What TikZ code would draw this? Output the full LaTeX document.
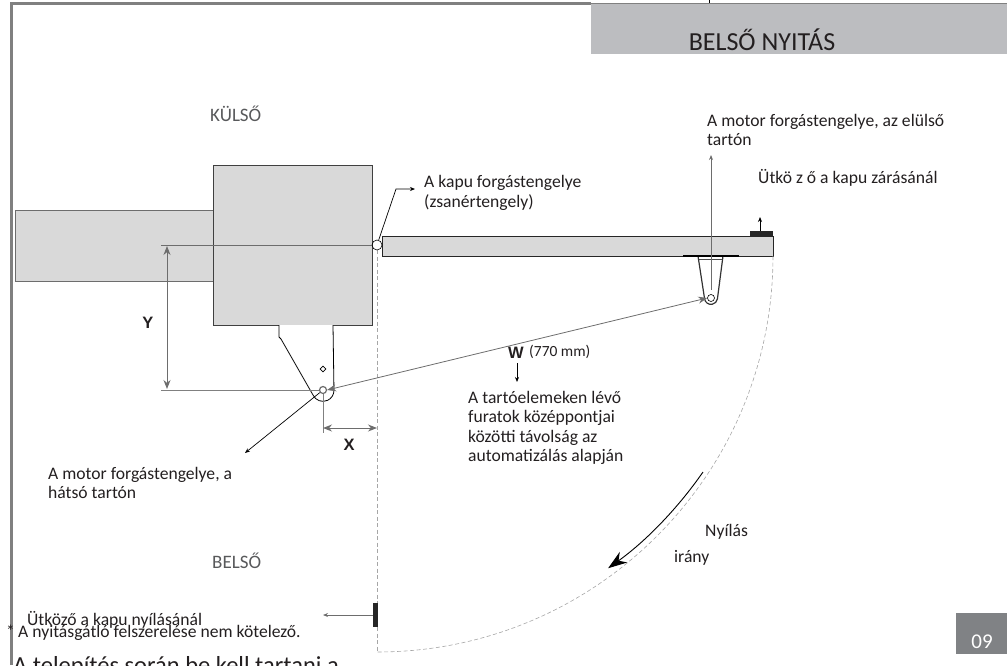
\documentclass[tikz,border=0pt]{standalone}
\usepackage{fontspec}
\setmainfont{Carlito}
\newfontfamily\dimfont{Liberation Sans}
\usetikzlibrary{arrows.meta, shapes.geometric}

\definecolor{framegray}{HTML}{808080}
\definecolor{wallgray}{HTML}{D9D9D9}
\definecolor{headgray}{HTML}{BCBDC0}
\definecolor{linegray}{HTML}{6D6D6D}
\definecolor{textgray}{HTML}{231F20}
\definecolor{sidegray}{HTML}{58595B}
\definecolor{pagegray}{HTML}{808285}

\tikzset{
    wall/.style={draw=linegray, fill=wallgray, line width=1pt},
    textlabel/.style={inner sep=0pt, anchor=west, text=textgray, font=\fontsize{17.6}{19.5}\selectfont, align=left},
    sidelabel/.style={inner sep=0pt, anchor=west, text=sidegray, font=\fontsize{19}{22}\selectfont},
    dimlabel/.style={inner sep=0pt, font=\dimfont\bfseries\fontsize{16.5}{18}\selectfont, text=textgray},
    dimline/.style={draw=linegray, line width=1pt},
    dimarrow/.style={dimline, {Stealth[length=9pt,width=7pt]}-{Stealth[length=9pt,width=7pt]}},
    thinarrow/.style={draw=black, line width=0.7pt, -{Stealth[length=5pt,width=4pt]}},
    gatepath/.style={draw=gray!70, line width=0.6pt, dash pattern=on 4pt off 2.5pt},
    pinhole/.style={circle, draw=black, inner sep=0pt, line width=0.6pt}
}

\begin{document}
\begin{tikzpicture}[x=1pt, y=-1pt]
    \useasboundingbox (0,0) rectangle (1007,665);
    % Frame
    \draw[framegray, line width=3pt] (11.5,665) -- (11.5,3.5) -- (591,3.5);
    \draw[framegray, line width=1pt] (591,3.5) -- (1007,3.5);
    \draw[black, line width=1pt] (709,0) -- (709,3);
    \node (header) [fill=headgray, minimum width=416pt, minimum height=50pt, inner sep=0pt, anchor=north west] at (591,4) {};
    \node (title) [inner sep=0pt, text=textgray, font=\fontsize{26}{30}\selectfont] at (762,40) {BELSŐ NYITÁS};
    % Wall
    \node (pillar) [wall, minimum width=198pt, minimum height=71pt, inner sep=0pt, anchor=north west] at (15,210) {};
    \node (post) [wall, draw=black!75, minimum width=159pt, minimum height=160pt, inner sep=0pt, anchor=north west] at (213,165) {};
    % Gate leaf
    \node (leaf) [draw=black!85, fill=wallgray, line width=1pt, minimum width=390.5pt, minimum height=19.5pt, inner sep=0pt, anchor=north west] at (382,236) {};
    \node (stopclose) [fill=black!85, minimum width=23pt, minimum height=5pt, inner sep=0pt, anchor=south east] at (773,236) {};
    % Swing path
    \draw[gatepath] (773,256) arc[start angle=0, end angle=90, radius=396];
    \draw[gatepath] (377,250) -- (377,652);
    \node (stopopen) [fill=black!85, minimum width=5pt, minimum height=24pt, inner sep=0pt] at (375.5,615) {};
    % Rear bracket
    \draw[black, line width=0.8pt, fill=white] (279,325) -- (279,337) -- (281,339) -- (313,395) arc[start angle=155, end angle=0, radius=11] -- (333,325);
    \node (hole) [diamond, draw=black, inner sep=0pt, minimum size=6pt, line width=0.6pt] at (323,369) {};
    % Front bracket
    \draw[black!80, line width=1.2pt] (698,256) -- (704.6,299) arc[start angle=170, end angle=10, radius=6.5] -- (723,256);
    \draw[black!70, line width=0.7pt] (699,259.5) -- (722,259.5);
    \draw[black, line width=2pt] (683,255.5) -- (739,255.5);
    % Pins
    \node (hinge) [pinhole, minimum size=10pt] at (377,245) {};
    \node (rearpin) [pinhole, draw=linegray, line width=1.2pt, minimum size=7pt] at (323,390) {};
    \node (frontpin) [pinhole, fill=white, minimum size=7pt] at (711,298) {};
    % Dimensions
    \coordinate (ytop) at (161,245);
    \coordinate (ybot) at (161,390);
    \draw[dimline] (ytop) -- (hinge.west);
    \draw[dimline, draw=gray] (ybot) -- (rearpin.west);
    \draw[dimarrow] (167,246) -- (167,389);
    \node (ylab) [dimlabel] at (148,323) {Y};
    \draw[dimline, draw=gray] (rearpin.south) -- (323,433);
    \draw[dimarrow] (323,428) -- (377,428);
    \node (xlab) [dimlabel] at (349,445) {X};
    \draw[dimarrow, line width=0.8pt] (rearpin.east) -- (frontpin.west);
    \node (wlab) [dimlabel, anchor=west] at (508,353) {W};
    \node (wval) [textlabel, font=\fontsize{15.5}{18}\selectfont] at (529,352) {(770 mm)};
    % Labels
    \node (outside) [sidelabel] at (210,114) {KÜLSŐ};
    \node (inside) [sidelabel] at (212,561) {BELSŐ};
    \node (hingelab) [textlabel] at (424,193) {A kapu forgástengelye\\(zsanértengely)};
    \node (frontlab) [textlabel] at (707,130) {A motor forgástengelye, az elülső\\tartón};
    \node (stoplab) [textlabel] at (758,178) {Ütkö z ő a kapu zárásánál};
    \node (wnote) [textlabel] at (468,428) {A tartóelemeken lévő\\furatok középpontjai\\közötti távolság az\\automatizálás alapján};
    \node (rearlab) [textlabel] at (48,483) {A motor forgástengelye, a\\hátsó tartón};
    \node (openlab) [textlabel] at (705,532) {Nyílás};
    \node (dirlab) [textlabel] at (674,558) {irány};
    \node (stopopenlab) [textlabel] at (27,620) {Ütköző a kapu nyílásánál};
    \node (star) [textlabel] at (6,631) {*};
    \node (optlab) [textlabel] at (18,633) {A nyitásgátló felszerelése nem kötelező.};
    \node (install) [textlabel, anchor=base west, font=\fontsize{24.5}{28}\selectfont] at (13,673) {A telepítés során be kell tartani a};
    % Page number
    \node (pagebox) [fill=pagegray, minimum width=51pt, minimum height=41pt, inner sep=0pt, anchor=north east] at (1007,613) {};
    \node (pagenum) [inner sep=0pt, text=white, font=\fontsize{21}{24}\selectfont] at (982,642) {09};
    % Arrows
    \draw[thinarrow] (hinge) -- (396,189) -- (415,189);
    \draw[thinarrow] (rearpin) -- (245,453);
    \draw[thinarrow, draw=linegray, line width=1pt] (711,290) -- (711,155);
    \draw[thinarrow] (760,231) -- (760,217);
    \draw[thinarrow, draw=linegray, line width=1pt] (stopopen) -- (323,615);
    \draw[thinarrow] (517,363) -- (517,382);
    \draw[black, line width=0.9pt, -{Stealth[length=19pt,width=13pt]}] (703,472) arc[start angle=34.8, end angle=54.4, radius=397];
\end{tikzpicture}
\end{document}
